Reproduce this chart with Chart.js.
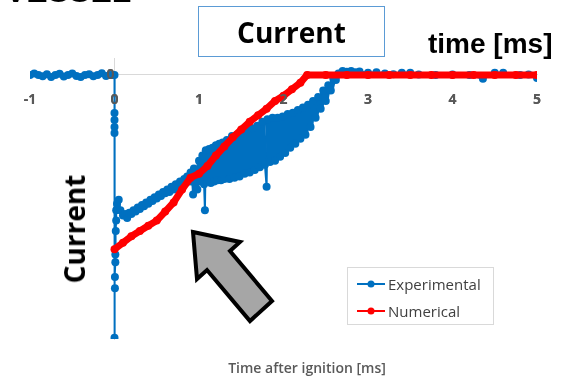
<!DOCTYPE html>
<html>
<head>
<meta charset="utf-8">
<script src="https://cdn.jsdelivr.net/npm/chart.js@4.4.1/dist/chart.umd.min.js"></script>
<style>
body { margin: 0; background: #fff; }
#wrap { position: relative; width: 562px; height: 379px; overflow: hidden; }
#chart { position: absolute; left: 0; top: 0; }
.txt { position: absolute; white-space: nowrap; line-height: 1; }
#cut { left: 5px; top: -27px; font: bold 32px "Liberation Sans", Arial, sans-serif; color: #000; }
#title { left: 198px; top: 6px; width: 187px; height: 51px; border: 1.5px solid #5b9bd5; box-sizing: border-box;
    display: flex; align-items: center; justify-content: center; font: bold 28px "Open Sans", sans-serif; color: #000; }
#unit { left: 428px; top: 28px; font: bold 28px "Liberation Sans", Arial, sans-serif; color: #000; }
#ylab { left: 74px; top: 229px; transform: translate(-50%, -50%) rotate(-90deg); font: bold 28px "Open Sans", sans-serif; color: #000; }
#xlab { left: 307px; top: 367px; transform: translate(-50%, -50%); font: 600 14px "Open Sans", sans-serif; color: #595959; }
#legend { position: absolute; left: 347px; top: 267px; width: 147px; height: 58px; border: 1px solid #d9d9d9; box-sizing: border-box; background: #fff; }
.row { position: absolute; left: 9px; height: 16px; display: flex; align-items: center; font: 15px "Open Sans", sans-serif; color: #404040; }
.row svg { margin-right: 3px; }
#arrow { position: absolute; left: 0; top: 0; }
</style>
</head>
<body>
<div id="wrap">
    <canvas id="chart" width="562" height="379"></canvas>
    <div class="txt" id="cut">VESSEL</div>
    <div class="txt" id="title">Current</div>
    <div class="txt" id="unit">time [ms]</div>
    <div class="txt" id="ylab">Current</div>
    <div class="txt" id="xlab">Time after ignition [ms]</div>
    <svg id="arrow" width="562" height="379">
        <polygon points="193,232 240,242 230,251 272,301 250,321 207,270 197,279"
            fill="#a6a6a6" stroke="#000" stroke-width="4" stroke-linejoin="miter"/>
    </svg>
    <div id="legend"></div>
</div>
<script>
// experimental current
const expTime = [
    -1, -0.95, -0.9, -0.85, -0.8, -0.75, -0.7, -0.65, -0.6, -0.55, -0.5, -0.45, -0.4, -0.35, -0.3, -0.25, -0.2, -0.15, -0.1, -0.05, -0.02,
    0, 0, 0, 0, 0, 0, 0.005, 0.005, 0.01, 0.01, 0.015, 0.02, 0.02, 0.03, 0.05, 0.07,
    0.1, 0.125, 0.15, 0.175, 0.2, 0.225, 0.25, 0.275, 0.3, 0.325, 0.35, 0.375, 0.4, 0.425, 0.45, 0.475, 0.5, 0.525, 0.55, 0.575,
    0.6, 0.625, 0.65, 0.675, 0.7, 0.725, 0.75, 0.775, 0.8, 0.825, 0.84,
    0.86, 0.88, 0.9, 0.92, 0.93, 0.94, 0.96, 0.98, 1.0, 1.02, 1.04, 1.06, 1.07, 1.08, 1.1, 1.12, 1.14, 1.16, 1.18, 1.2, 1.22, 1.24, 1.26, 1.28, 1.3,
    1.33, 1.36, 1.39, 1.42, 1.45, 1.48, 1.51, 1.54, 1.57, 1.6, 1.63, 1.66, 1.69, 1.72, 1.75, 1.78, 1.8, 1.81, 1.84, 1.87, 1.9, 1.93, 1.96, 1.99,
    2.02, 2.05, 2.08, 2.11, 2.14, 2.17, 2.2, 2.23, 2.26, 2.29, 2.32, 2.35, 2.38, 2.41, 2.44, 2.47, 2.5, 2.53, 2.56, 2.59, 2.62, 2.65,
    2.7, 2.75, 2.8, 2.85, 2.9, 3.0, 3.1, 3.2, 3.3, 3.4, 3.5, 3.6, 3.8, 4.0, 4.2, 4.36, 4.5, 4.6, 4.8, 4.9, 5.0
];
const expCurrent = [
    0, 0.5, 0, -0.5, 0.3, -0.8, 0, 0.4, -0.6, 0, 0.5, -0.4, -0.8, 0, 0.3, -0.5, 0, 0.6, -0.4, 0, 0,
    0, -14.6, -17.3, -20, -22.3, -101, -82, -77.7, -72, -69, -60, -56, -52, -49.5, -48, -52,
    -54, -53.5, -55, -53, -53.5, -52, -52.5, -51, -51.5, -50, -50.5, -49, -49.5, -48, -48.5, -47, -47.5, -46, -46.5, -45,
    -45.5, -44, -45, -43, -44, -42, -43.5, -41, -42.5, -40, -41.5,
    -39, -41, -37.5, -41, -46, -36, -42, -44, -33, -41, -31, -42, -52, -29, -41, -28.5, -41.5, -28, -41, -27, -40.5, -26.5, -40.5, -26, -40,
    -25, -40, -23.5, -39.5, -23, -39, -22, -38, -21.5, -37.5, -20.5, -36.5, -19.5, -35.5, -18, -34.5, -43, -17, -33.5, -16.5, -33, -16.5, -31.5, -16,
    -30, -15, -28, -14.5, -26.5, -13.5, -24.5, -12.5, -23, -11.5, -20, -10, -16.5, -8.5, -13, -6, -10, -4, -6, -1.5, -2, 0.5,
    1.5, 1.2, 1.5, 1, 1.3, 0.8, 1, 0.5, 0.3, 0.8, 0.8, 0.2, 0, 0.2, 0, -1.5, 0.8, 0.8, 0, 0.2, -1.2
];
// isolated readings that hang below the band as thin stems
const expStems = [0.93, 0.98, 1.07, 1.8];

// numerical current
const numTime = [0, 0.1, 0.2, 0.3, 0.4, 0.5, 0.6, 0.7, 0.8, 0.9, 1.0, 1.1, 1.2, 1.3, 1.4, 1.5, 1.6, 1.7, 1.8, 1.9, 2.0, 2.1, 2.2, 2.28,
    2.5, 2.75, 3.0, 3.25, 3.5, 3.75, 4.0, 4.25, 4.5, 4.75, 5.0];
const numCurrent = [-67, -64.5, -62, -60, -58, -56, -52.5, -49, -44, -39.5, -38, -35, -31, -27.5, -24, -21, -18, -15.5, -13, -10, -8, -5.5, -3, 0,
    0, 0, 0, 0, 0, 0, 0, 0, 0, 0, 0];

const xTicks = [-1, 0, 1, 2, 3, 4, 5];

const toPoints = (xs, ys) => xs.map((x, i) => ({ x: x, y: ys[i] }));

// the noisy band of the measurement is drawn with a heavier stroke
const bandWidth = ctx => {
    const a = ctx.p0.parsed.x, b = ctx.p1.parsed.x;
    if (expStems.includes(a) || expStems.includes(b)) return 2;
    if (a >= 0.86 && b <= 2.65) return 5.5;
    if (a >= 0.1 && b <= 0.86) return 3.5;
    return 2;
};

// tick labels sit on top of the data, as in the original
const labelsOnTop = {
    id: 'labelsOnTop',
    afterDatasetsDraw(chart) {
        chart.scales.x.drawLabels(chart.chartArea);
        chart.scales.y.drawLabels(chart.chartArea);
    }
};

const chart = new Chart(document.getElementById('chart'), {
    type: 'line',
    data: {
        datasets: [
            {
                label: 'Experimental',
                data: toPoints(expTime, expCurrent),
                borderColor: '#0070c0',
                backgroundColor: '#0070c0',
                borderWidth: 2,
                borderJoinStyle: 'round',
                segment: { borderWidth: bandWidth },
                pointRadius: 4,
                pointBorderWidth: 0,
                order: 2
            },
            {
                label: 'Numerical',
                data: toPoints(numTime, numCurrent),
                borderColor: '#ff0000',
                backgroundColor: '#ff0000',
                borderWidth: 7,
                borderJoinStyle: 'round',
                pointRadius: 4,
                pointBorderWidth: 0,
                order: 1
            }
        ]
    },
    options: {
        responsive: false,
        animation: false,
        layout: { autoPadding: false, padding: { left: 30, right: 25, top: 58, bottom: 40 } },
        plugins: { legend: { display: false }, tooltip: { enabled: false } },
        scales: {
            x: {
                type: 'linear',
                min: -1,
                max: 5,
                position: { y: 0 },
                afterBuildTicks: s => { s.ticks = xTicks.map(v => ({ value: v })); },
                afterFit: s => { s.height = 0; s.paddingLeft = 0; s.paddingRight = 0; },
                ticks: { color: '#595959', font: { family: 'Open Sans', size: 14, weight: 'bold' }, padding: 17 },
                grid: { drawOnChartArea: false, drawTicks: false },
                border: { color: '#d9d9d9' }
            },
            y: {
                type: 'linear',
                min: -101.5,
                max: 6.5,
                position: { x: 0 },
                afterBuildTicks: s => { s.ticks = [{ value: 0 }]; },
                afterFit: s => { s.width = 0; s.paddingTop = 0; s.paddingBottom = 0; },
                ticks: { color: '#595959', font: { family: 'Open Sans', size: 14, weight: 'bold' }, padding: 17 },
                grid: { drawOnChartArea: false, drawTicks: false },
                border: { color: '#d9d9d9' }
            }
        }
    },
    plugins: [labelsOnTop]
});

// legend box built from the datasets
const legend = document.getElementById('legend');
chart.data.datasets.forEach((ds, i) => {
    const row = document.createElement('div');
    row.className = 'row';
    row.style.top = (8 + i * 27) + 'px';
    row.innerHTML = '<svg width="28" height="10"><line x1="0" y1="5" x2="28" y2="5" stroke="' + ds.borderColor +
        '" stroke-width="2"/><circle cx="14" cy="5" r="3.5" fill="' + ds.borderColor + '"/></svg>';
    const span = document.createElement('span');
    span.textContent = ds.label;
    row.appendChild(span);
    legend.appendChild(row);
});
</script>
</body>
</html>
